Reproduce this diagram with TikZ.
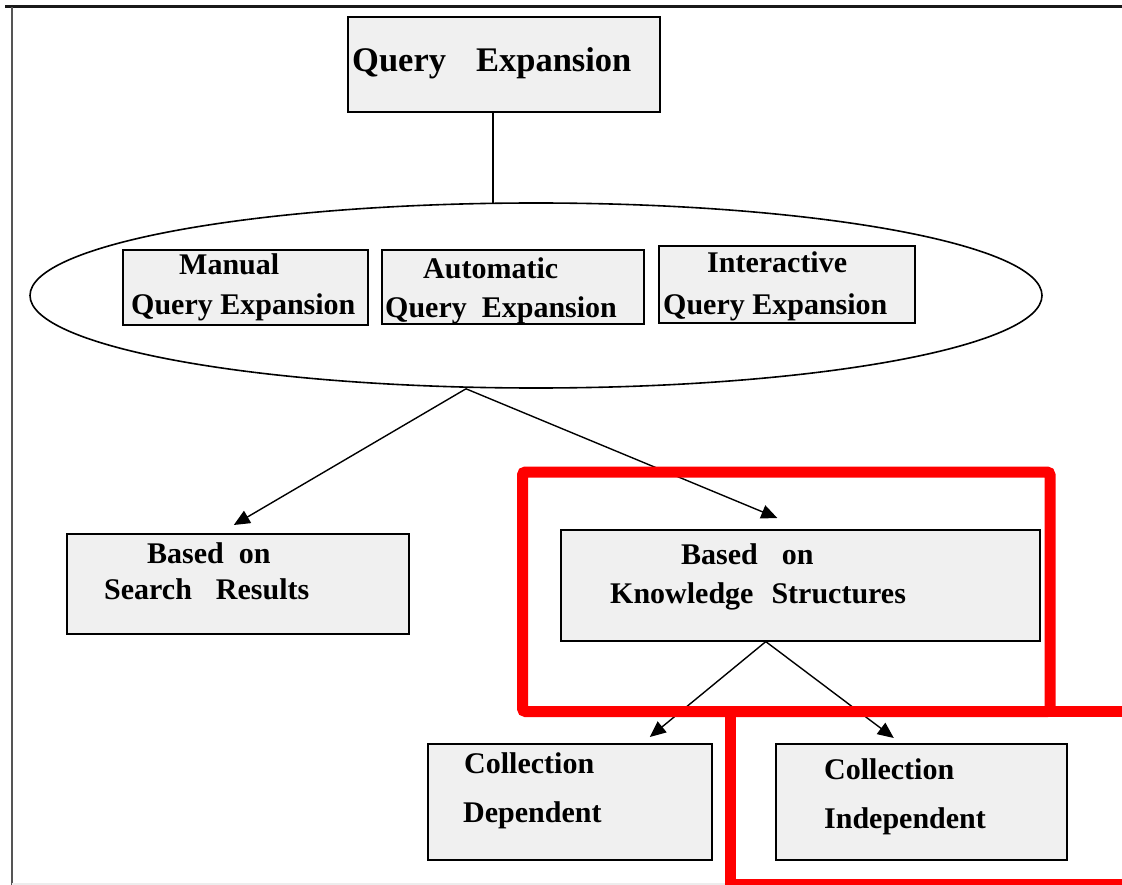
\documentclass[tikz,border=0pt]{standalone}
\usepackage{fontspec}
\setmainfont{Liberation Serif}
\usetikzlibrary{arrows.meta,shapes.geometric}
\definecolor{boxfill}{RGB}{240,240,240}
\definecolor{framegray}{RGB}{85,85,85}
\definecolor{hilite}{RGB}{255,0,0}

\begin{document}
\begin{tikzpicture}[x=1pt,y=-1pt,
  box/.style={draw=black, line width=1.6pt, fill=boxfill, anchor=north west, inner sep=0pt},
  txt/.style={anchor=base west, inner sep=0pt, font=\bfseries\fontsize{30}{36}\selectfont},
  link/.style={line width=1.4pt, -{Triangle[length=16pt,width=14pt]}},
  hibox/.style={draw=hilite, line width=11pt}
]
\useasboundingbox (0,0) rectangle (1122,885);
\fill[white] (0,0) rectangle (1122,885);
\begin{scope}
\clip (0,0) rectangle (1122,885);

% outer frame
\draw[line width=3pt, black!90] (5,7) -- (1130,7);
\draw[line width=2.5pt, framegray] (12,7) -- (12,890);
\draw[line width=1.5pt, black!7] (12,884) -- (1130,884);

% root
\node[box, line width=2pt, minimum width=312pt, minimum height=95pt] (qe) at (347,16) {};
\node[anchor=base west, inner sep=0pt, font=\bfseries\fontsize{34.5}{40}\selectfont] (qe-t) at (352,72) {Query\hspace{30pt}Expansion};

% group of the three kinds of expansion
\node[draw, line width=1.6pt, ellipse, inner sep=0pt, minimum width=1012pt, minimum height=185pt] (qm) at (536,295.5) {};
\draw[line width=1.5pt] ([xshift=-11pt]qe.south) -- ([xshift=-11pt,yshift=-0.8pt]qe.south |- qm.north);

\node[box, minimum width=245pt, minimum height=75pt] (man) at (122,249) {};
\node[txt] (man-1) at (179,275) {Manual};
\node[txt] (man-2) at (131,315) {Query Expansion};

\node[box, minimum width=262pt, minimum height=74pt] (aut) at (381,249) {};
\node[txt] (aut-1) at (423,279) {Automatic};
\node[txt] (aut-2) at (385,318) {Query\hspace{15pt}Expansion};

\node[box, minimum width=256pt, minimum height=77pt] (int) at (658,245) {};
\node[txt] (int-1) at (707,273) {Interactive};
\node[txt] (int-2) at (663,315) {Query Expansion};

% second level
\node[box, minimum width=342pt, minimum height=100pt] (sr) at (66,533) {};
\node[txt] (sr-1) at (147,563) {Based\hspace{15pt}on};
\node[txt] (sr-2) at (104,599) {Search\hspace{24pt}Results};

\node[box, minimum width=479pt, minimum height=111pt] (ks) at (560,529) {};
\node[txt] (ks-1) at (681,564) {Based\hspace{24pt}on};
\node[txt] (ks-2) at (610,603) {Knowledge\hspace{18pt}Structures};

% third level
\node[box, minimum width=284pt, minimum height=116pt] (cd) at (427,743) {};
\node[txt] (cd-1) at (464,773) {Collection};
\node[txt] (cd-2) at (463,822) {Dependent};

\node[box, minimum width=291pt, minimum height=116pt] (ci) at (775,743) {};
\node[txt] (ci-1) at (824,779) {Collection};
\node[txt] (ci-2) at (824,828) {Independent};

% connectors
\coordinate (fork) at ([xshift=-70pt]qm.south);
\coordinate (ksfork) at ([xshift=-34.5pt]ks.south);
\draw[link] (fork) -- ([xshift=-4pt,yshift=8pt]sr.north);
\draw[link] (fork) -- ([xshift=-23pt,yshift=11pt]ks.north);
\draw[link] (ksfork) -- ([xshift=80pt,yshift=6pt]cd.north);
\draw[link] (ksfork) -- ([xshift=-27.5pt,yshift=5pt]ci.north);

% red highlight frames
\draw[hibox, rounded corners=3pt] (522.5,472) rectangle (1050,711.5);
\draw[hibox, line join=miter] (1140,711.5) -- (730.5,711.5) -- (730.5,884.5) -- (1140,884.5);
\end{scope}
\end{tikzpicture}
\end{document}
